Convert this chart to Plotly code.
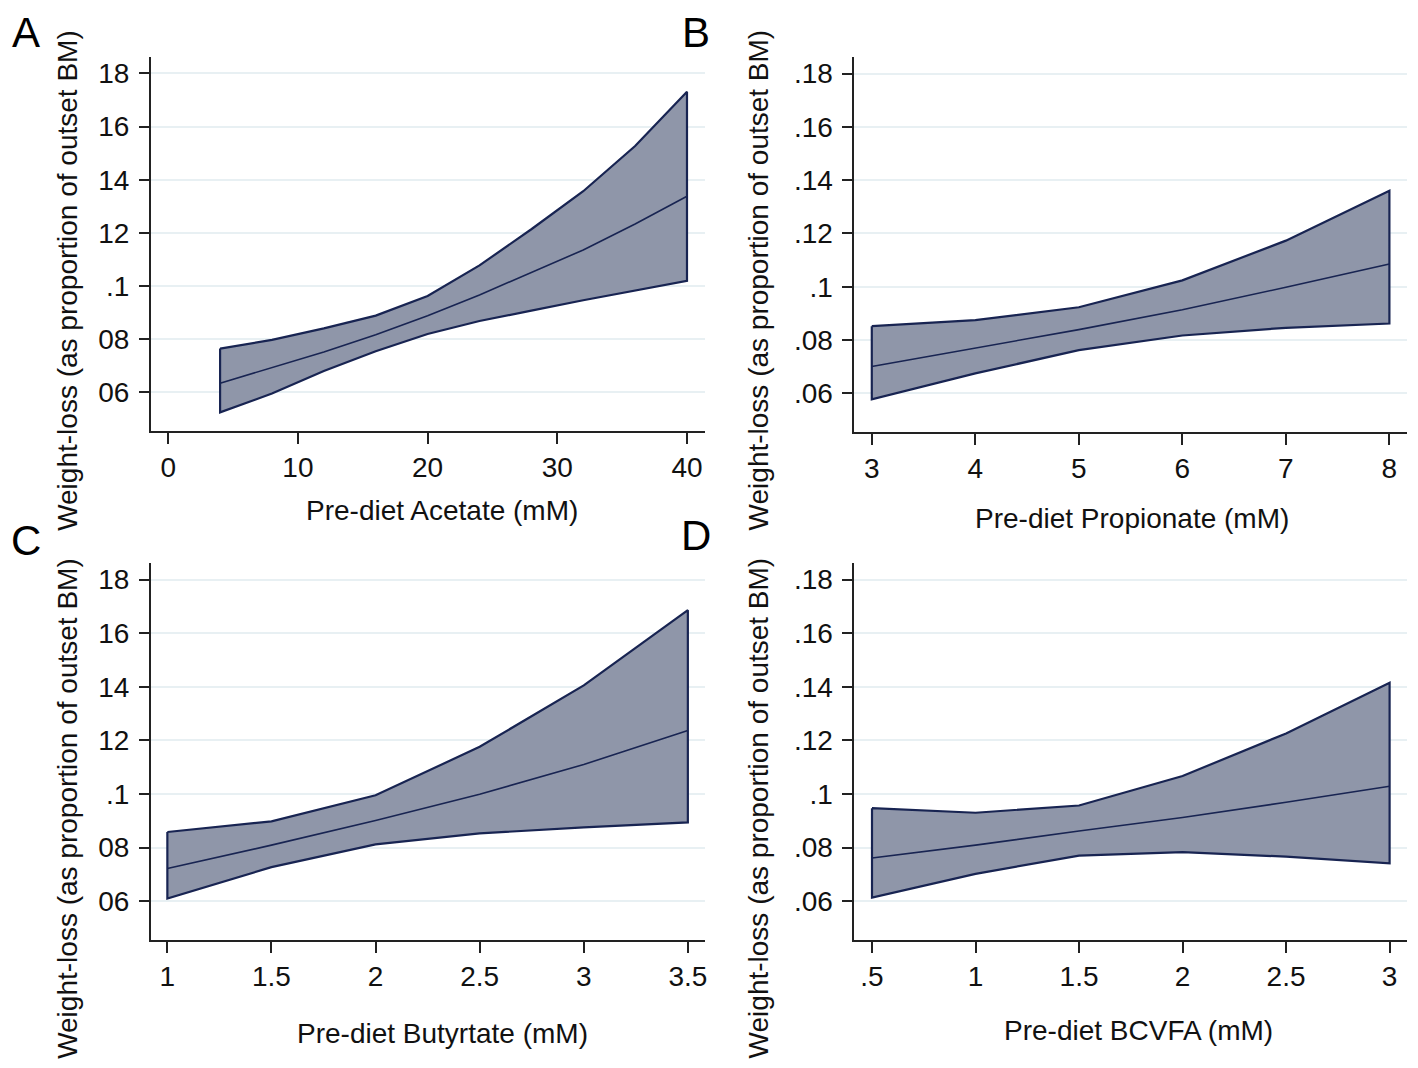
import plotly.graph_objects as go

# --- data (predicted weight-loss with 95% CI) ---
acetate_x = [4, 8, 12, 16, 20, 24, 28, 32, 36, 40]
acetate_mid = [0.0635, 0.0694, 0.0752, 0.0817, 0.0889, 0.0967, 0.1052, 0.1136, 0.1234, 0.1338]
acetate_hi = [0.0765, 0.0798, 0.0841, 0.0889, 0.0963, 0.1078, 0.1214, 0.1357, 0.1527, 0.1731]
acetate_lo = [0.0525, 0.0596, 0.0681, 0.0755, 0.0820, 0.0869, 0.0908, 0.0947, 0.0984, 0.1020]

propionate_x = [3, 4, 5, 6, 7, 8]
propionate_mid = [0.0701, 0.0769, 0.0839, 0.0914, 0.0998, 0.1085]
propionate_hi = [0.0852, 0.0875, 0.0923, 0.1024, 0.1173, 0.1360]
propionate_lo = [0.0578, 0.0675, 0.0762, 0.0817, 0.0846, 0.0862]

butyrate_x = [1, 1.5, 2, 2.5, 3, 3.5]
butyrate_mid = [0.0722, 0.0809, 0.0901, 0.0999, 0.1110, 0.1237]
butyrate_hi = [0.0858, 0.0898, 0.0995, 0.1176, 0.1405, 0.1686]
butyrate_lo = [0.0610, 0.0727, 0.0812, 0.0853, 0.0875, 0.0894]

bcvfa_x = [0.5, 1, 1.5, 2, 2.5, 3]
bcvfa_mid = [0.0761, 0.0809, 0.0862, 0.0912, 0.0969, 0.1029]
bcvfa_hi = [0.0947, 0.0930, 0.0957, 0.1067, 0.1226, 0.1415]
bcvfa_lo = [0.0613, 0.0702, 0.0770, 0.0783, 0.0766, 0.0741]

y_ticks = [0.06, 0.08, 0.10, 0.12, 0.14, 0.16, 0.18]
y_labels_left = ["06", "08", ".1", "12", "14", "16", "18"]   # leading dot cropped in original
y_labels_right = [".06", ".08", ".1", ".12", ".14", ".16", ".18"]

acetate_ticks = [0, 10, 20, 30, 40]
propionate_ticks = [3, 4, 5, 6, 7, 8]
butyrate_ticks = [1, 1.5, 2, 2.5, 3, 3.5]
bcvfa_ticks = [0.5, 1, 1.5, 2, 2.5, 3]
bcvfa_ticklabels = [".5", "1", "1.5", "2", "2.5", "3"]

y_title = "Weight-loss (as proportion of outset BM)"

# page has an 8px body margin, so the figure is drawn 8px in and 16px smaller
OFF = 8
W, H = 1418 - 2 * OFF, 1068 - 2 * OFF
FILL = "rgb(143,150,169)"
LINE = "rgb(24,36,82)"
GRID = "rgb(232,240,243)"
FONT = "Liberation Sans, Arial, sans-serif"
FS = 28


def px_x(x):
    return (x - OFF) / W


def px_y(y):
    return 1 - (y - OFF) / H


panels = [
    dict(x=acetate_x, mid=acetate_mid, hi=acetate_hi, lo=acetate_lo, ticks=acetate_ticks,
         labels=[str(t) for t in acetate_ticks], xr=[-1.35, 41.35], yl=y_labels_left,
         xt="Pre-diet Acetate (mM)", letter="A", box=(151, 57, 706, 431),
         xt_pos=(443, 510), yt_pos=(67, 280), let_x=26),
    dict(x=propionate_x, mid=propionate_mid, hi=propionate_hi, lo=propionate_lo, ticks=propionate_ticks,
         labels=[str(t) for t in propionate_ticks], xr=[2.83, 8.17], yl=y_labels_right,
         xt="Pre-diet Propionate (mM)", letter="B", box=(856, 57, 1410, 432),
         xt_pos=(1134, 518), yt_pos=(760, 280), let_x=697),
    dict(x=butyrate_x, mid=butyrate_mid, hi=butyrate_hi, lo=butyrate_lo, ticks=butyrate_ticks,
         labels=[str(t) for t in butyrate_ticks], xr=[0.92, 3.58], yl=y_labels_left,
         xt="Pre-diet Butyrtate (mM)", letter="C", box=(151, 563, 706, 940),
         xt_pos=(443, 1033), yt_pos=(67, 808), let_x=26),
    dict(x=bcvfa_x, mid=bcvfa_mid, hi=bcvfa_hi, lo=bcvfa_lo, ticks=bcvfa_ticks,
         labels=bcvfa_ticklabels, xr=[0.414, 3.084], yl=y_labels_right,
         xt="Pre-diet BCVFA (mM)", letter="D", box=(856, 563, 1410, 940),
         xt_pos=(1141, 1030), yt_pos=(760, 808), let_x=697),
]
letter_y = [19, 19, 540, 535]

fig = go.Figure()
annotations = []

for i, p in enumerate(panels, start=1):
    xa = "x" if i == 1 else f"x{i}"
    ya = "y" if i == 1 else f"y{i}"
    # confidence band as a closed polygon
    fig.add_trace(go.Scatter(
        x=p["x"] + p["x"][::-1] + [p["x"][0]],
        y=p["hi"] + p["lo"][::-1] + [p["hi"][0]],
        fill="toself", fillcolor=FILL, mode="lines",
        line=dict(color=LINE, width=2.2), xaxis=xa, yaxis=ya,
        showlegend=False, hoverinfo="skip"))
    fig.add_trace(go.Scatter(
        x=p["x"], y=p["mid"], mode="lines",
        line=dict(color=LINE, width=1.6), xaxis=xa, yaxis=ya, showlegend=False))

    l, t, r, b = p["box"]
    xkey = "xaxis" if i == 1 else f"xaxis{i}"
    ykey = "yaxis" if i == 1 else f"yaxis{i}"
    fig.update_layout({
        xkey: dict(domain=[px_x(l), px_x(r)], anchor=ya, range=p["xr"],
                   tickvals=p["ticks"], ticktext=p["labels"],
                   showgrid=False, zeroline=False, showline=True, linecolor="#222", linewidth=1.5,
                   ticks="outside", ticklen=11, tickwidth=1.5, tickcolor="#222",
                   tickfont=dict(size=FS, color="#111", family=FONT)),
        ykey: dict(domain=[px_y(b), px_y(t)], anchor=xa, range=[0.0455, 0.1862],
                   tickvals=y_ticks, ticktext=p["yl"],
                   showgrid=True, gridcolor=GRID, gridwidth=1.5, zeroline=False,
                   showline=True, linecolor="#222", linewidth=1.5,
                   ticks="outside", ticklen=10, tickwidth=1.5, tickcolor="#222",
                   ticklabelstandoff=4,
                   tickfont=dict(size=FS, color="#111", family=FONT)),
    })

    annotations.append(dict(text=p["xt"], x=px_x(p["xt_pos"][0]), y=px_y(p["xt_pos"][1]),
                            xref="paper", yref="paper", showarrow=False,
                            xanchor="center", yanchor="middle",
                            font=dict(size=FS, color="#111", family=FONT)))
    annotations.append(dict(text=y_title, x=px_x(p["yt_pos"][0]), y=px_y(p["yt_pos"][1]),
                            xref="paper", yref="paper", showarrow=False, textangle=-90,
                            xanchor="center", yanchor="middle",
                            font=dict(size=FS, color="#111", family=FONT)))

for i, p in enumerate(panels):
    ly = letter_y[i]
    top = i < 2
    annotations.append(dict(text=p["letter"], x=px_x(p["let_x"]),
                            y=1.0 if top else px_y(ly), borderpad=0,
                            xref="paper", yref="paper", showarrow=False,
                            xanchor="center", yanchor="top" if top else "middle",
                            font=dict(size=42, color="#000", family=FONT)))

fig.update_layout(
    width=W, height=H,
    margin=dict(l=0, r=0, t=0, b=0),
    paper_bgcolor="white", plot_bgcolor="white",
    annotations=annotations,
    showlegend=False,
)

fig.write_html("out.html")
